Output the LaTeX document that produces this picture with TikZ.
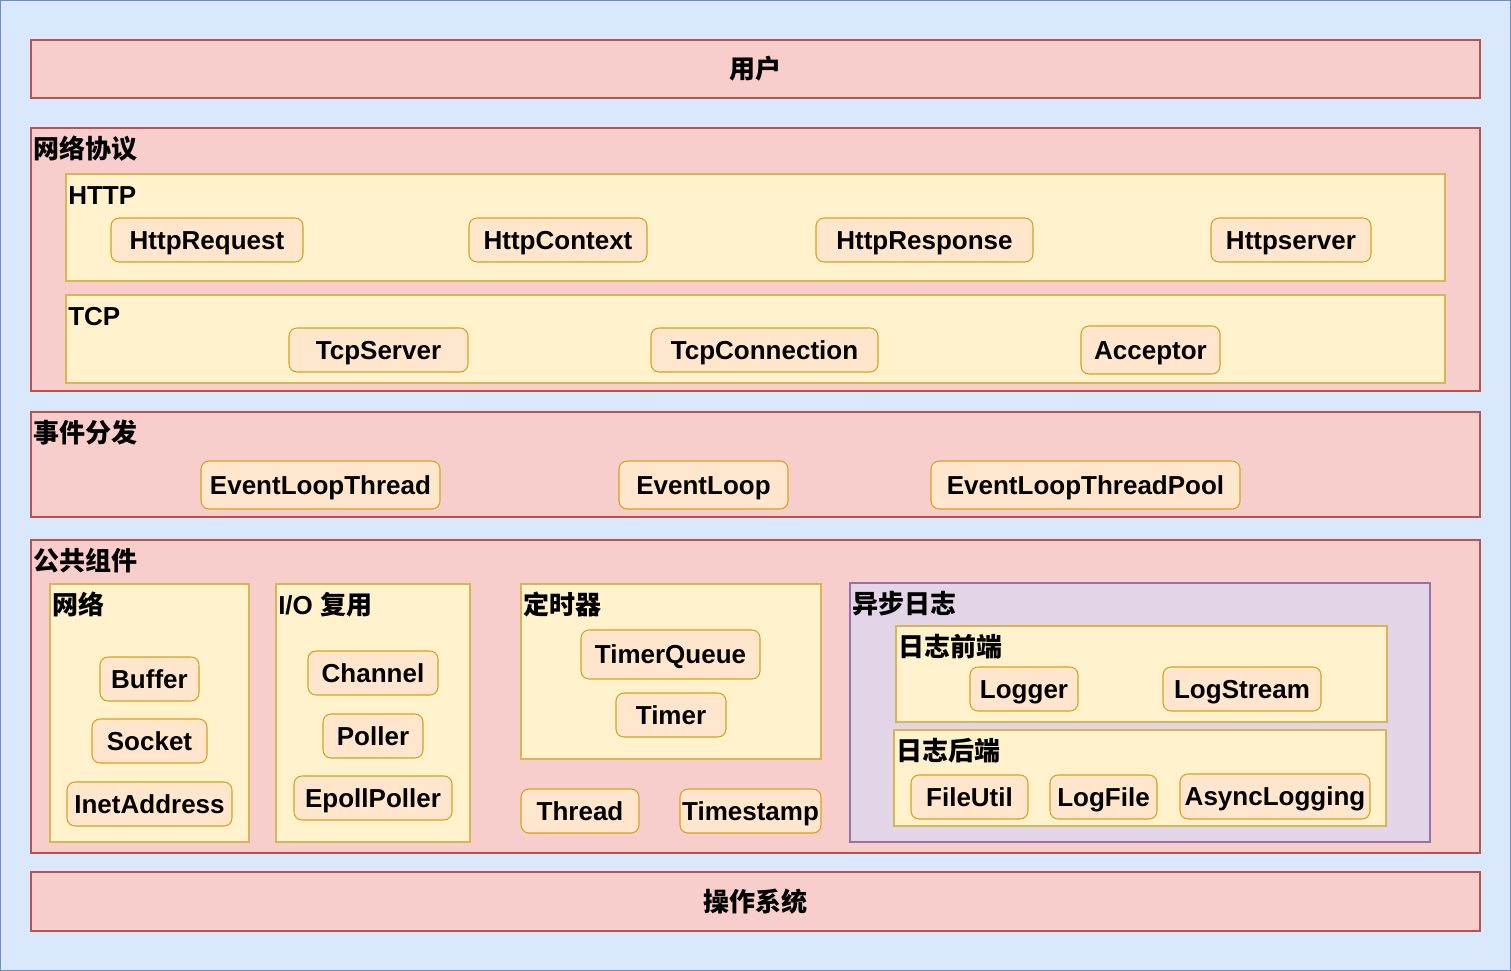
\documentclass[tikz,border=0pt]{standalone}
\usepackage{fontspec}
\setmainfont{Liberation Sans}
\newfontfamily\cjk{Noto Sans CJK SC}
\usepackage{tikz}

\definecolor{bgfill}{HTML}{DAE8FC}
\definecolor{bgdraw}{HTML}{6C8EBF}
\definecolor{layerfill}{HTML}{F8CECC}
\definecolor{layerdraw}{HTML}{B85450}
\definecolor{groupfill}{HTML}{FFF2CC}
\definecolor{groupdraw}{HTML}{D6B656}
\definecolor{logfill}{HTML}{E1D5E7}
\definecolor{logdraw}{HTML}{9673A6}
\definecolor{itemfill}{HTML}{FFE6CC}
\definecolor{itemdraw}{HTML}{D79B00}

\tikzset{
  bg/.style={draw=bgdraw,fill=bgfill,line width=0.8pt},
  layer/.style={draw=layerdraw,fill=layerfill,line width=0.8pt},
  group/.style={draw=groupdraw,fill=groupfill,line width=0.8pt},
  logbox/.style={draw=logdraw,fill=logfill,line width=0.8pt},
  item/.style={draw=itemdraw!70!groupdraw,fill=itemfill,line width=0.8pt,rounded corners=6pt,
    inner sep=0pt,text height=18pt,text depth=4pt,minimum height=33pt},
  title/.style={anchor=base west,inner sep=0pt},
}

\begin{document}
\begin{tikzpicture}[x=0.75pt,y=0.75pt,yscale=-1,xscale=1,font=\fontsize{19.5}{23}\selectfont\bfseries]
\useasboundingbox (0,0) rectangle (1511,971);

%Shape: Rectangle [background]
\draw[bg] (0,0) rectangle (1511,971);

%Shape: Rectangle [user]
\node[layer,minimum width=1086.75pt,minimum height=43.5pt] (user) at (755.5,69) {\cjk 用户};

%Shape: Rectangle [protocol layer]
\draw[layer] (31,128) rectangle (1480,391);
\node[title] (protolabel) at (33,158) {\cjk 网络协议};
%Shape: Rectangle [http]
\draw[group] (66,174) rectangle (1445,281);
\node[title] (httplabel) at (68,204) {HTTP};
\node[item,minimum width=144pt] (httprequest) at (207,240) {HttpRequest};
\node[item,minimum width=133.5pt] (httpcontext) at (558,240) {HttpContext};
\node[item,minimum width=162.75pt] (httpresponse) at (924.5,240) {HttpResponse};
\node[item,minimum width=120pt] (httpserver) at (1291,240) {Httpserver};
%Shape: Rectangle [tcp]
\draw[group] (66,295) rectangle (1445,383);
\node[title] (tcplabel) at (68,325) {TCP};
\node[item,minimum width=134.25pt] (tcpserver) at (378.5,350) {TcpServer};
\node[item,minimum width=170.25pt] (tcpconnection) at (764.5,350) {TcpConnection};
\node[item,minimum width=104.25pt,minimum height=36pt] (acceptor) at (1150.5,350) {Acceptor};

%Shape: Rectangle [event layer]
\draw[layer] (31,412) rectangle (1480,517);
\node[title] (eventlabel) at (33,442) {\cjk 事件分发};
\node[item,minimum width=179.25pt,minimum height=36pt] (loopthread) at (320.5,485) {EventLoopThread};
\node[item,minimum width=126.75pt,minimum height=36pt] (eventloop) at (703.5,485) {EventLoop};
\node[item,minimum width=231.75pt,minimum height=36pt] (looppool) at (1085.5,485) {EventLoopThreadPool};

%Shape: Rectangle [common layer]
\draw[layer] (31,540) rectangle (1480,853);
\node[title] (commonlabel) at (33,570) {\cjk 公共组件};
%Shape: Rectangle [net]
\draw[group] (50,584) rectangle (249,842);
\node[title] (netlabel) at (52,614) {\cjk 网络};
\node[item,minimum width=74.25pt] (buffer) at (149.5,679) {Buffer};
\node[item,minimum width=86.25pt] (socket) at (149.5,741) {Socket};
\node[item,minimum width=123.75pt] (inetaddress) at (149.5,804) {InetAddress};
%Shape: Rectangle [io]
\draw[group] (276,584) rectangle (470,842);
\node[title] (iolabel) at (278,614) {I/O {\cjk 复用}};
\node[item,minimum width=97.5pt] (channel) at (373,673) {Channel};
\node[item,minimum width=75pt] (poller) at (373,736) {Poller};
\node[item,minimum width=118.5pt] (epollpoller) at (373,798) {EpollPoller};
%Shape: Rectangle [timer]
\draw[group] (521,584) rectangle (821,759);
\node[title] (timerlabel) at (523,614) {\cjk 定时器};
\node[item,minimum width=134.25pt,minimum height=36.75pt] (timerqueue) at (670.5,654.5) {TimerQueue};
\node[item,minimum width=82.5pt] (timer) at (671,715) {Timer};
\node[item,minimum width=88.5pt] (thread) at (580,811) {Thread};
\node[item,minimum width=105.75pt] (timestamp) at (750.5,811) {Timestamp};
%Shape: Rectangle [async log]
\draw[logbox] (850,583) rectangle (1430,842);
\node[title] (asynclabel) at (852,613) {\cjk 异步日志};
\draw[group] (896,626) rectangle (1387,722);
\node[title] (frontlabel) at (898,656) {\cjk 日志前端};
\node[item,minimum width=81pt] (logger) at (1024,689) {Logger};
\node[item,minimum width=118.5pt] (logstream) at (1242,689) {LogStream};
\draw[group] (894,730) rectangle (1386,826);
\node[title] (backlabel) at (896,760) {\cjk 日志后端};
\node[item,minimum width=87.75pt] (fileutil) at (969.5,797) {FileUtil};
\node[item,minimum width=80.25pt] (logfile) at (1103.5,797) {LogFile};
\node[item,minimum width=142.5pt,minimum height=33.75pt] (asynclogging) at (1275,796.5) {AsyncLogging};

%Shape: Rectangle [os]
\node[layer,minimum width=1086.75pt,minimum height=44.25pt] (os) at (755.5,901.5) {\cjk 操作系统};

\end{tikzpicture}
\end{document}
